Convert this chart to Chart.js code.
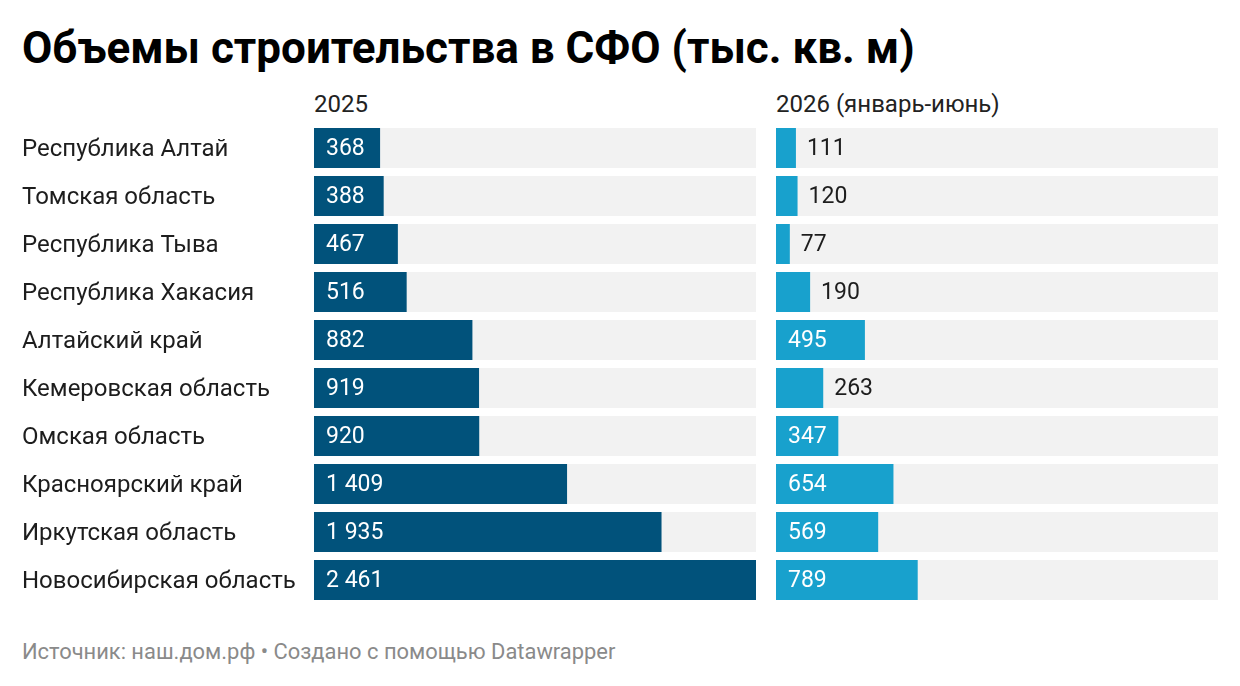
<!DOCTYPE html>
<html>
<head>
<meta charset="utf-8">
<script src="https://cdn.jsdelivr.net/npm/chart.js@4"></script>
<style>
  body { margin: 0; background: #fff; font-family: Roboto, sans-serif; }
  #wrap { position: relative; width: 1240px; height: 686px; overflow: hidden; }
  h1 { position: absolute; left: 22px; top: 20px; margin: 0; font-size: 44px; line-height: 56px; font-weight: 700; color: #000; }
  .head { position: absolute; top: 90px; font-size: 24px; line-height: 28px; color: #222; }
  #foot { position: absolute; left: 22px; top: 639px; font-size: 21.9px; line-height: 26px; color: #8a8a8a; }
  #c1 { position: absolute; left: 0; top: 124px; }
  #c2 { position: absolute; left: 756px; top: 124px; }
</style>
</head>
<body>
<div id="wrap">
  <h1>Объемы строительства в СФО (тыс. кв. м)</h1>
  <div class="head" style="left:314px">2025</div>
  <div class="head" style="left:776px">2026 (январь-июнь)</div>
  <canvas id="c1"></canvas>
  <canvas id="c2"></canvas>
  <div id="foot">Источник: наш.дом.рф • Создано с помощью Datawrapper</div>
</div>
<script>
var regions = ["Республика Алтай", "Томская область", "Республика Тыва", "Республика Хакасия",
    "Алтайский край", "Кемеровская область", "Омская область", "Красноярский край",
    "Иркутская область", "Новосибирская область"];
var values2025 = [368, 388, 467, 516, 882, 919, 920, 1409, 1935, 2461];
var values2026 = [111, 120, 77, 190, 495, 263, 347, 654, 569, 789];
var scaleMax = 2461;

function fmt(v) {
    return String(v).replace(/\B(?=(\d{3})+(?!\d))/g, ' ');
}

// value labels: white inside the bar, dark after it when it does not fit
var valueLabels = {
    id: 'valueLabels',
    afterDatasetsDraw: function(chart) {
        var ctx = chart.ctx;
        var meta = chart.getDatasetMeta(0);
        var data = chart.data.datasets[0].data;
        ctx.save();
        ctx.font = '23px Roboto';
        ctx.textBaseline = 'middle';
        ctx.textAlign = 'left';
        meta.data.forEach(function(bar, i) {
            var txt = fmt(data[i]);
            var w = ctx.measureText(txt).width;
            var bw = bar.x - bar.base;
            if (w + 20 <= bw) {
                ctx.fillStyle = '#ffffff';
                ctx.fillText(txt, bar.base + 12, bar.y + 1);
            } else {
                ctx.fillStyle = '#1d1d1d';
                ctx.fillText(txt, bar.x + 11, bar.y + 1);
            }
        });
        ctx.restore();
    }
};

function makeChart(id, width, vals, color, showLabels) {
    var el = document.getElementById(id);
    el.width = width; el.height = 480;
    el.style.width = width + 'px'; el.style.height = '480px';
    return new Chart(el, {
        type: 'bar',
        data: {
            labels: regions,
            datasets: [{
                data: vals,
                backgroundColor: color,
                grouped: false,
                order: 0,
                barPercentage: 1,
                categoryPercentage: 40 / 48
            }, {
                data: regions.map(function() { return scaleMax; }),
                backgroundColor: '#f2f2f2',
                grouped: false,
                order: 1,
                barPercentage: 1,
                categoryPercentage: 40 / 48
            }]
        },
        options: {
            indexAxis: 'y',
            responsive: false,
            animation: false,
            layout: { padding: { left: showLabels ? 22 : 20, right: 22, top: 0, bottom: 0 } },
            plugins: { legend: { display: false }, tooltip: { enabled: false } },
            scales: {
                x: { display: false, min: 0, max: scaleMax },
                y: {
                    display: showLabels,
                    grid: { display: false },
                    border: { display: false },
                    afterFit: function(s) {
                        if (showLabels) s.width = 292;
                        s.paddingTop = 0;
                        s.paddingBottom = 0;
                    },
                    ticks: {
                        crossAlign: 'far',
                        padding: 0,
                        labelOffset: 2,
                        color: '#1d1d1d',
                        font: { family: 'Roboto', size: 24 }
                    }
                }
            }
        },
        plugins: [valueLabels]
    });
}

makeChart('c1', 778, values2025, '#01527b', true);
makeChart('c2', 484, values2026, '#18a1cd', false);
</script>
</body>
</html>
